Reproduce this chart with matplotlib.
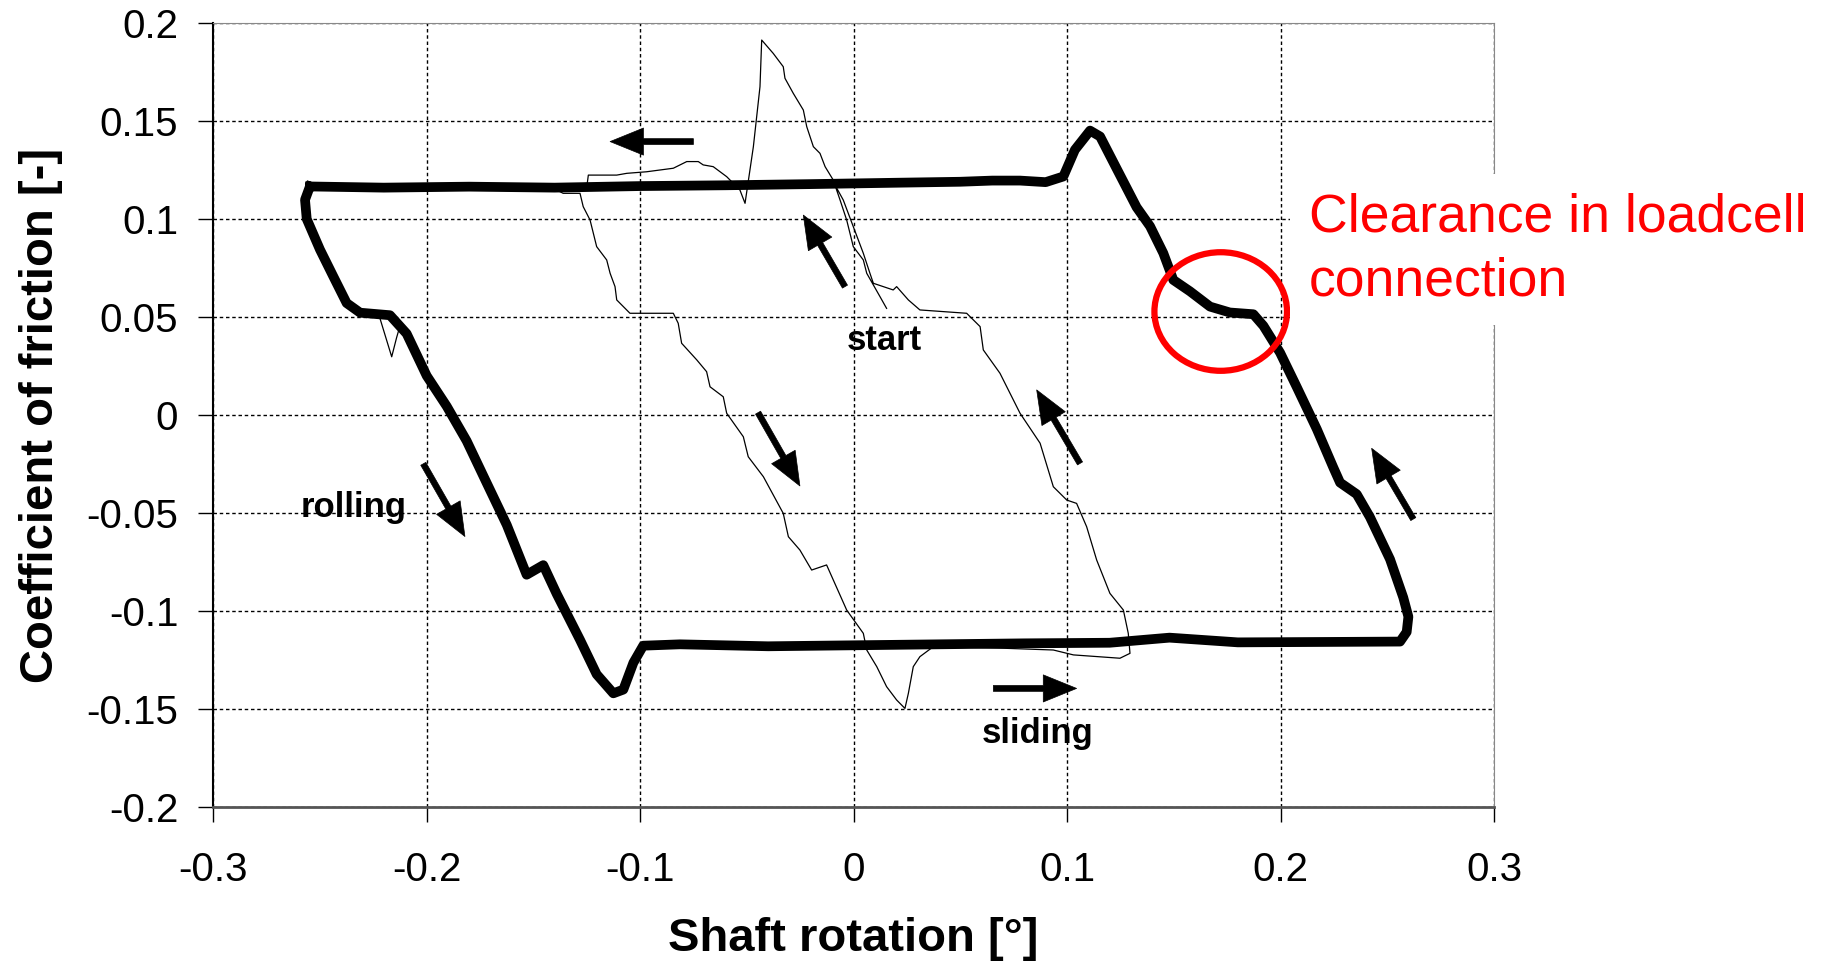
import numpy as np
import matplotlib
matplotlib.use('Agg')
import matplotlib.pyplot as plt
from matplotlib.patches import Ellipse

plt.rcParams['font.family'] = ['Liberation Sans', 'DejaVu Sans']
plt.rcParams['axes.unicode_minus'] = False

# repeated friction cycles (thick bundle)
loopX = [-0.2546, -0.22, -0.18, -0.14, -0.10, -0.06, -0.02, 0.02, 0.05, 0.065, 0.078, 0.090,
         0.0983, 0.1037, 0.1108, 0.1155, 0.1233, 0.1326, 0.1389, 0.1451, 0.1498, 0.1576, 0.1670,
         0.1763, 0.1873, 0.1920, 0.1998, 0.2076, 0.2170, 0.2247, 0.2279, 0.2357, 0.2419, 0.2513,
         0.2575, 0.2599, 0.2591, 0.2560, 0.22, 0.18, 0.148, 0.12, 0.08, 0.04, 0.0, -0.04,
         -0.0813, -0.0985, -0.1031, -0.1078, -0.1125, -0.1203, -0.1281, -0.1390, -0.1453,
         -0.1531, -0.1624, -0.1718, -0.1812, -0.1905, -0.1999, -0.2093, -0.2171, -0.2311,
         -0.2374, -0.2437, -0.2499, -0.2561, -0.2569, -0.2546]
loopY = [0.1166, 0.1160, 0.1165, 0.1160, 0.1168, 0.1172, 0.1178, 0.1185, 0.1190, 0.1196, 0.1196, 0.1188,
         0.1217, 0.1353, 0.1451, 0.1421, 0.1256, 0.1060, 0.0963, 0.0826, 0.0689, 0.0631, 0.0553,
         0.0523, 0.0514, 0.0455, 0.0318, 0.0143, -0.0072, -0.0267, -0.0345, -0.0404, -0.0521, -0.0736,
         -0.0931, -0.1029, -0.1107, -0.1156, -0.1158, -0.1160, -0.1136, -0.1162, -0.1165, -0.1170, -0.1175, -0.1180,
         -0.1170, -0.1177, -0.1264, -0.1401, -0.1420, -0.1323, -0.1147, -0.0913, -0.0766,
         -0.0815, -0.0561, -0.0347, -0.0132, 0.0044, 0.0200, 0.0415, 0.0509, 0.0522,
         0.0571, 0.0708, 0.0844, 0.1000, 0.1098, 0.1166]

# first (running-in) cycle, thin line
startX = [0.0155, 0.0124, 0.0062, 0.0046, -0.0001, -0.0032, -0.0063, -0.0095, -0.0133, -0.0157, -0.0188,
          -0.0219, -0.0235, -0.0282, -0.0321, -0.0329, -0.0376, -0.0430, -0.0438, -0.0469, -0.0508,
          -0.0532, -0.0563, -0.0594, -0.0657, -0.0704, -0.0727, -0.0781, -0.0844, -0.0969, -0.1062,
          -0.1109, -0.1242, -0.1247, -0.142, -0.136, -0.1281, -0.1266, -0.1234, -0.1203, -0.1156,
          -0.1140, -0.1117, -0.1109, -0.1047, -0.0844, -0.0821, -0.0805, -0.0734, -0.0688, -0.0672,
          -0.0610, -0.0594, -0.0516, -0.0493, -0.0422, -0.0329, -0.0305, -0.0251, -0.0196, -0.0126,
          -0.0032, 0.0046, 0.0062, 0.0109, 0.0155, 0.0202, 0.0241, 0.0257, 0.0280, 0.0311, 0.0374,
          0.0420, 0.0702, 0.0936, 0.1030, 0.1248, 0.1295, 0.1287, 0.1264, 0.1201, 0.1139, 0.1092,
          0.1045, 0.0999, 0.0936, 0.0874, 0.0780, 0.0686, 0.0608, 0.0593, 0.0530, 0.0311, 0.0257,
          0.0202, 0.0186, 0.0093, 0.0077, 0.0046, -0.0001, -0.0048, -0.0095]
startY = [0.0544, 0.0604, 0.0723, 0.0791, 0.0859, 0.0995, 0.1097, 0.1199, 0.1267, 0.1335, 0.1369,
          0.1471, 0.1556, 0.1641, 0.1718, 0.1777, 0.1845, 0.1913, 0.1675, 0.1369, 0.1080,
          0.1148, 0.1182, 0.1216, 0.1267, 0.1276, 0.1293, 0.1293, 0.1259, 0.1241, 0.1233,
          0.1224, 0.1224, 0.1182, 0.1165, 0.1131, 0.1131, 0.1063, 0.0995, 0.0859, 0.0791,
          0.0723, 0.0655, 0.0587, 0.0519, 0.0519, 0.0468, 0.0366, 0.0281, 0.0221, 0.0144,
          0.0093, 0.0009, -0.0111, -0.0213, -0.0315, -0.0502, -0.0621, -0.0689, -0.0791, -0.0765,
          -0.0995, -0.1114, -0.1199, -0.1284, -0.1386, -0.1454, -0.1497, -0.1420, -0.1284, -0.1233, -0.1182,
          -0.1182, -0.1190, -0.1199, -0.1224, -0.1241, -0.1216, -0.1114, -0.0995, -0.0910, -0.0740, -0.0570,
          -0.0451, -0.0434, -0.0366, -0.0144, 0.0009, 0.0213, 0.0332, 0.0451, 0.0519, 0.0536, 0.0587,
          0.0655, 0.0638, 0.0672, 0.0723, 0.0825, 0.0961, 0.1097, 0.1190]

spikeX = [-0.2235, -0.2218, -0.2163, -0.2140, -0.2120]
spikeY = [0.0515, 0.0493, 0.0297, 0.0395, 0.0470]

# arrows: (tail x, tail y, head x, head y)
arrows = [(-0.075, 0.1395, -0.114, 0.1395),
          (-0.004, 0.0655, -0.0235, 0.102),
          (-0.0447, 0.0012, -0.0251, -0.0362),
          (0.1061, -0.0247, 0.0858, 0.0128),
          (0.0655, -0.1395, 0.1045, -0.1395),
          (0.2622, -0.0531, 0.2427, -0.0170),
          (-0.2015, -0.0249, -0.182, -0.062)]

labels = ['start', 'rolling', 'sliding']
labelX = [0.0143, -0.2342, 0.0862]
labelY = [0.038, -0.047, -0.1626]

xticks = [-0.3, -0.2, -0.1, 0, 0.1, 0.2, 0.3]
xticklabels = ['-0.3', '-0.2', '-0.1', '0', '0.1', '0.2', '0.3']
yticks = [-0.2, -0.15, -0.1, -0.05, 0, 0.05, 0.1, 0.15, 0.2]
yticklabels = ['-0.2', '-0.15', '-0.1', '-0.05', '0', '0.05', '0.1', '0.15', '0.2']

fig = plt.figure(figsize=(18.23, 9.67), dpi=100)
ax = fig.add_axes([213 / 1823, 1 - 807 / 967, 1281 / 1823, 784 / 967])

ax.plot(loopX, loopY, color='black', linewidth=7, solid_joinstyle='round', zorder=3)
ax.plot(startX, startY, color='black', linewidth=0.9, zorder=3)
ax.plot(spikeX, spikeY, color='black', linewidth=0.9, zorder=3)

for tx, ty, hx, hy in arrows:
    ax.annotate('', xy=(hx, hy), xytext=(tx, ty),
                arrowprops=dict(arrowstyle='simple,head_length=0.8,head_width=0.65,tail_width=0.14',
                                fc='black', ec='black', lw=0.5, shrinkA=0, shrinkB=0,
                                mutation_scale=30), zorder=4)

for s, lx, ly in zip(labels, labelX, labelY):
    ax.text(lx, ly, s, fontsize=25, fontweight='bold', ha='center', va='center', zorder=5)

ax.add_patch(Ellipse((0.172, 0.0528), 0.0621, 0.0605, fill=False, ec='#ff0000', lw=4.5, zorder=6))
ax.text(0.2133, 0.1135, 'Clearance in loadcell\nconnection', color='#ff0000', fontsize=38.5,
        ha='left', va='top', linespacing=1.35, zorder=7, clip_on=False,
        bbox=dict(boxstyle='square,pad=0.35', fc='white', ec='none'))

ax.set_xlim(-0.3, 0.3)
ax.set_ylim(-0.2, 0.2)
ax.set_xticks(xticks)
ax.set_xticklabels(xticklabels)
ax.set_yticks(yticks)
ax.set_yticklabels(yticklabels)
ax.tick_params(axis='both', direction='out', length=11, width=1, labelsize=29)
ax.tick_params(axis='x', pad=21)
ax.tick_params(axis='y', pad=14)

ax.grid(True, color='black', linestyle=(0, (2.5, 2)), linewidth=1.0)
ax.set_axisbelow(True)
ax.spines['top'].set_color('#888888')
ax.spines['right'].set_color('#888888')
ax.spines['left'].set_linewidth(1.5)
ax.spines['bottom'].set_color('#555555')
ax.spines['bottom'].set_linewidth(2)

ax.set_xlabel('Shaft rotation [°]', fontsize=34, fontweight='bold', va='center')
ax.xaxis.set_label_coords(0.5, -0.168)
ax.set_ylabel('Coefficient of friction [-]', fontsize=34, fontweight='bold', va='center')
ax.yaxis.set_label_coords(-0.134, 0.5)

plt.savefig('out.png', dpi=100)
